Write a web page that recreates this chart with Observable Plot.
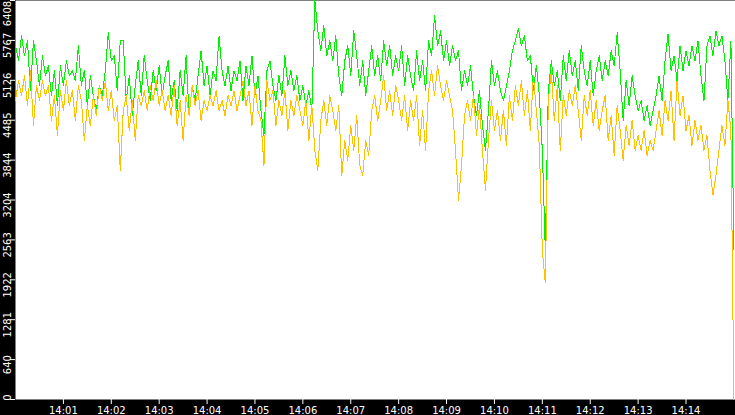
<!DOCTYPE html>
<html>
<head>
<meta charset="utf-8">
<script src="https://cdn.jsdelivr.net/npm/d3@7"></script>
<script src="https://cdn.jsdelivr.net/npm/@observablehq/plot@0.6"></script>
<style>
  html, body { margin: 0; padding: 0; background: #000; }
  #chart svg { display: block; }
</style>
</head>
<body>
<div id="chart"></div>
<script>
// Sampling: one value every 3.75 s starting at 14:00:00
const startTime = "14:00:00";
const stepSeconds = 3.75;

const green = [
  5680,5440,5840,5520,5760,4960,5760,5440,5040,5520,
  5200,5360,4880,5280,4720,5360,5040,5440,5200,5280,
  5120,5680,5040,5280,4720,5200,4880,4640,5040,4880,
  5280,5888,5440,5520,4960,5760,5760,4800,5200,4560,
  5040,5440,4880,5520,5120,4800,5280,4960,5360,4880,
  5200,5440,4800,5120,4640,5280,4880,5520,4560,5040,
  4800,5200,5600,5040,5360,4880,5280,5120,5840,5280,
  5040,5360,4960,5280,5120,5440,4800,5360,5040,5520,
  4880,5200,4640,4240,5280,5440,5040,4800,5200,4880,
  5520,5040,5280,4960,5200,4800,5040,4720,4960,4640,
  6408,5920,5600,6000,5520,5760,5440,5840,5200,4880,
  5440,5680,5200,5920,5520,5040,5440,4880,5280,5680,
  5200,5520,5120,5760,5360,5680,5200,5520,5280,5680,
  5040,5520,5200,4960,5600,5120,5440,4960,5760,5520,
  6160,5680,5920,5440,5760,5360,5680,5440,5600,4960,
  5280,5040,5360,4880,4560,4960,4400,4000,4640,5440,
  5040,5280,4960,4800,5040,5280,5600,5760,5952,5680,
  5840,5440,5520,4960,5360,4880,4000,2400,4960,5440,
  5040,5280,4800,5520,5120,5600,5200,5440,4960,5680,
  5280,5040,5440,4880,5280,5520,5120,5440,5200,5600,
  5360,5888,5280,4480,5120,4720,5200,4880,4640,4800,
  4480,4720,4400,4640,4880,5200,4800,5440,5872,5280,
  5520,5120,5680,5280,5600,5360,5680,5440,5760,5200,
  4800,5680,5840,5520,5920,5680,5840,5440,4800,5760,
  2400
];

const orange = [
  4800,5120,4880,5200,4720,5280,4400,5040,4800,5120,
  4880,5040,4480,4880,4240,4960,4640,5120,4720,4960,
  4480,5040,4800,4160,4720,4400,4880,4560,5040,4800,
  5120,4640,4960,4480,4720,3680,4640,4880,4320,4800,
  4160,4880,4720,4960,4640,5040,4800,5120,4720,4960,
  4640,4880,4560,5040,4400,4800,4160,4880,4560,5040,
  4720,4960,4480,4800,4640,4880,4720,4960,4640,4800,
  4560,4880,4720,4960,4640,4880,5120,4720,4960,4400,
  5040,4640,4480,3760,5120,4800,4960,4400,4800,4560,
  4960,4320,4800,4560,4880,4640,4400,4800,4160,4720,
  4000,3680,4480,4800,4400,4880,4640,4320,4720,3600,
  4160,3840,4400,4000,4560,3760,3600,4160,3920,4640,
  4880,4480,4800,5200,4640,4960,4560,5040,4800,4480,
  4880,4320,4800,4480,4880,4080,4640,4000,4960,5280,
  4880,5360,5040,4800,5120,4880,4640,4000,3200,3760,
  4560,4800,4480,4880,4240,4720,4000,3360,4160,4800,
  4320,4640,4160,4640,4080,4880,4480,5040,4720,5120,
  4560,4960,4320,5200,4640,4080,2400,1872,4800,5280,
  4480,5040,4000,4880,4560,4960,4720,5040,4640,4160,
  4880,4560,4960,4400,4800,4320,4640,4880,4160,4560,
  3920,4720,4320,3840,4400,4080,4480,4000,4240,4000,
  4320,3920,4160,4000,4320,4640,4240,4800,4480,4960,
  4160,5120,4560,4880,4320,4560,4080,4480,4160,4400,
  4000,4240,3680,3280,3600,4000,4400,4080,4800,4320,
  0
];

const yMax = 6408;
const yTickCount = 10;
const xTickLabels = ["14:01","14:02","14:03","14:04","14:05","14:06","14:07",
                     "14:08","14:09","14:10","14:11","14:12","14:13","14:14"];
const xDomainLabels = ["14:00:00","14:15:02"];

const parseT = s => {
  const [h, m, sec] = s.split(":").map(Number);
  return new Date(Date.UTC(2000, 0, 1, h, m, sec || 0));
};
const t0 = parseT(startTime);
const toRows = arr => arr.map((v, i) => ({t: new Date(+t0 + i * stepSeconds * 1000), v}));
const greenRows = toRows(green);
const orangeRows = toRows(orange);

const yTicks = d3.range(yTickCount + 1).map(i => yMax * i / yTickCount);
const xTicks = xTickLabels.map(parseT);
const fmt = d => String(Math.floor(d + 1e-9));

const midTicks = yTicks.slice(1, -1);

const chart = Plot.plot({
  width: 735,
  height: 415,
  marginLeft: 15,
  marginRight: 0,
  marginTop: 0,
  marginBottom: 16,
  style: {background: "#000", color: "#fff", fontFamily: "DejaVu Sans", fontSize: "10px"},
  x: {type: "utc", domain: xDomainLabels.map(parseT)},
  y: {domain: [0, yMax]},
  marks: [
    Plot.frame({fill: "#fff", stroke: null}),
    Plot.line(greenRows, {x: "t", y: "v", stroke: "#00f000", strokeWidth: 1, shapeRendering: "crispEdges"}),
    Plot.line(orangeRows, {x: "t", y: "v", stroke: "#ffc000", strokeWidth: 1, shapeRendering: "crispEdges"}),
    Plot.axisX({ticks: xTicks, tickFormat: d3.utcFormat("%H:%M"), tickSize: 5, tickPadding: 2, stroke: "#fff", fill: "#fff", fontSize: 10, label: null}),
    Plot.axisY({ticks: yTicks, tickFormat: () => "", tickSize: 5, stroke: "#fff", label: null}),
    Plot.text(midTicks, {y: d => d, text: fmt, frameAnchor: "left", dx: -5, dy: 5, rotate: -90, textAnchor: "middle", lineAnchor: "bottom", fill: "#fff", fontSize: 10}),
    Plot.text([yTicks[0]], {y: d => d, text: fmt, frameAnchor: "left", dx: -5, dy: -2, rotate: -90, textAnchor: "middle", lineAnchor: "bottom", fill: "#fff", fontSize: 10}),
    Plot.text([yTicks[yTicks.length - 1]], {y: d => d, text: fmt, frameAnchor: "left", dx: -5, dy: 13, rotate: -90, textAnchor: "middle", lineAnchor: "bottom", fill: "#fff", fontSize: 10})
  ]
});
document.getElementById("chart").appendChild(chart);
</script>
</body>
</html>
